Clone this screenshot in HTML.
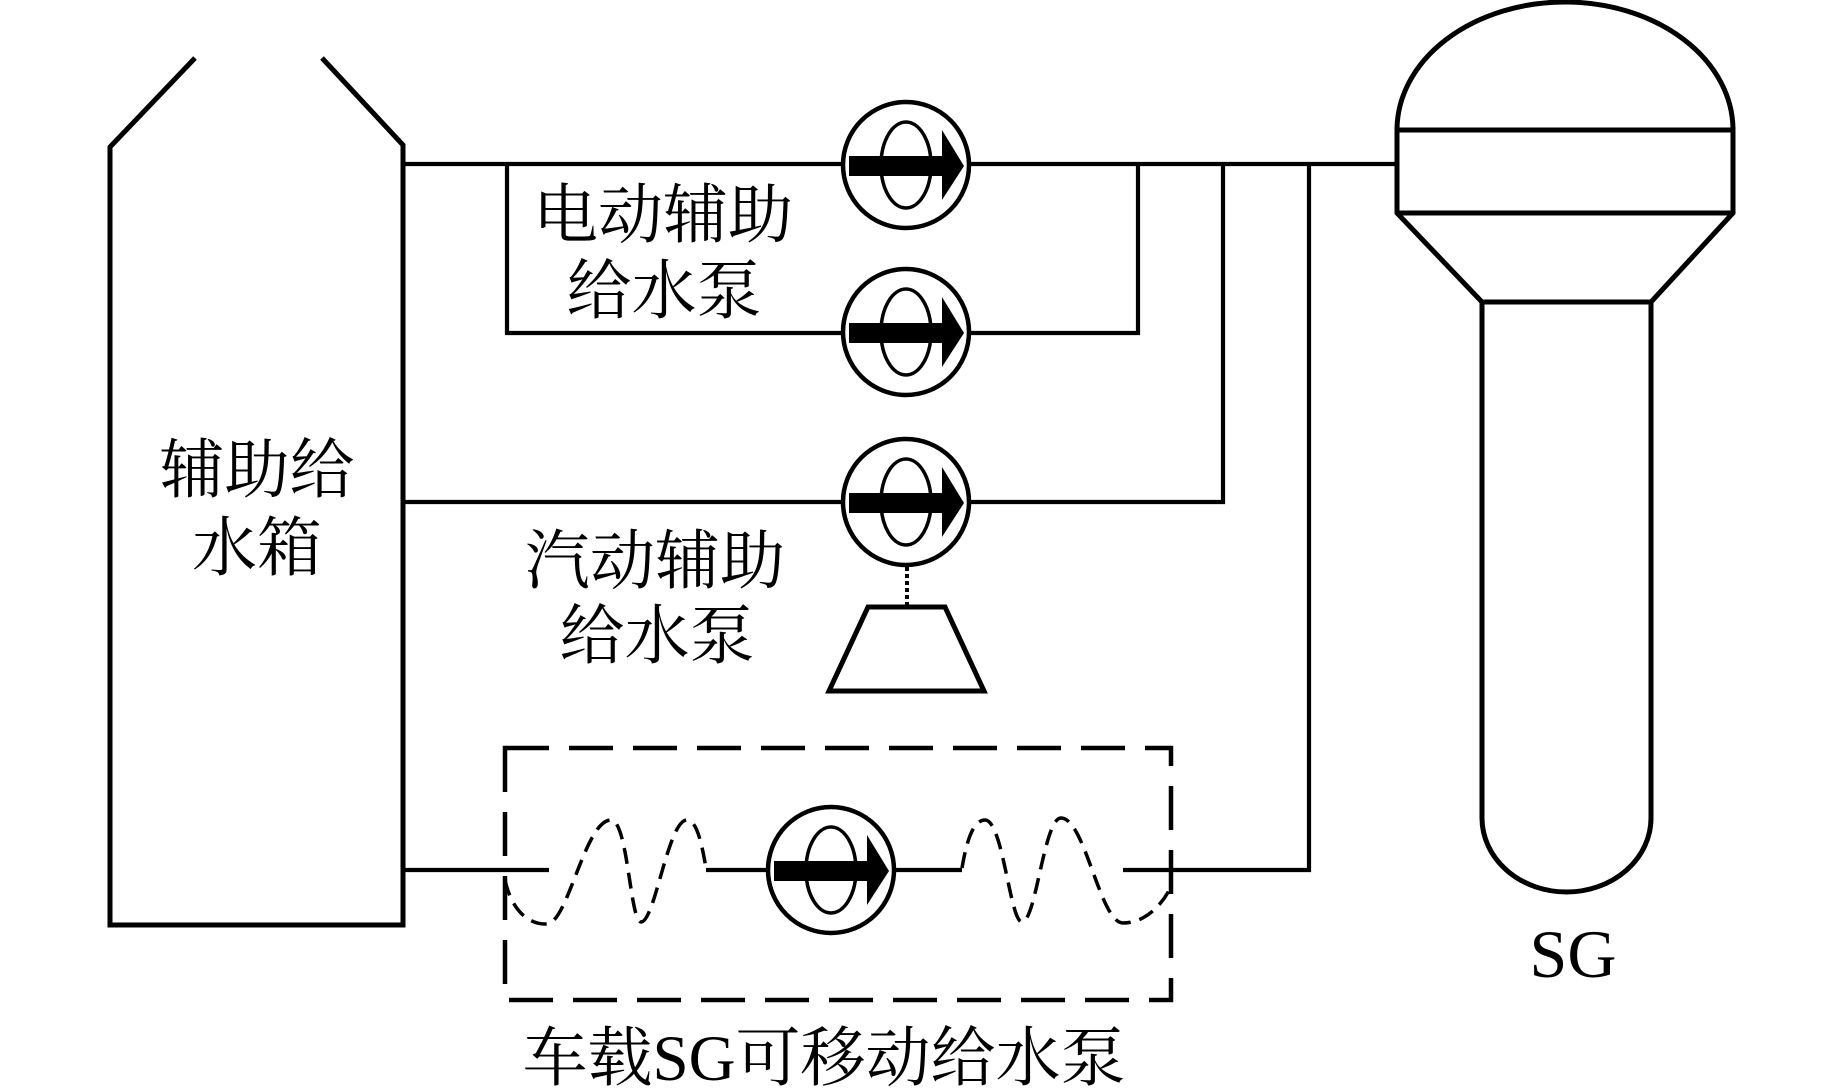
<!DOCTYPE html>
<html>
<head>
<meta charset="utf-8">
<style>
html,body{margin:0;padding:0;background:#fff;}
svg{display:block;}
text{font-family:"Liberation Serif","Noto Serif CJK SC","Noto Sans CJK SC",serif;fill:#000;}
</style>
</head>
<body>
<svg width="1843" height="1089" viewBox="0 0 1843 1089" xmlns="http://www.w3.org/2000/svg">
<rect width="1843" height="1089" fill="#fff"/>

<!-- Tank -->
<path d="M195,58 L110,147 L110,925 L403,925 L403,145 L322,58" fill="none" stroke="#000" stroke-width="5" stroke-linejoin="miter"/>

<!-- Pipes -->
<g fill="none" stroke="#000" stroke-width="4.2" stroke-linejoin="miter">
  <path d="M403,164 L1397,164"/>
  <path d="M507,164 L507,333 L1138,333 L1138,164"/>
  <path d="M403,502 L1223,502 L1223,164"/>
  <path d="M403,870 L549,870"/>
  <path d="M706,870 L962,870"/>
  <path d="M1123,870 L1309,870 L1309,164"/>
</g>

<!-- Dashed box -->
<rect x="505" y="748" width="666" height="252" fill="none" stroke="#000" stroke-width="4.5" stroke-dasharray="44 20"/>

<!-- Hoses -->
<g fill="none" stroke="#000" stroke-width="3.5" stroke-dasharray="16 9">
  <path d="M505,880 C512,912 530,925 547,924 C568,923 585,820 611,820 C628,820 630,922 641,922 C655,922 668,820 687,820 C697,820 702,845 706,868"/>
  <path d="M962,868 C966,845 972,820 985,820 C1003,820 1010,922 1022,922 C1036,922 1044,818 1061,818 C1085,818 1100,923 1123,923 C1145,923 1162,905 1171,887"/>
</g>

<!-- Pump symbol -->
<defs>
  <g id="pump">
    <circle cx="0" cy="0" r="63" fill="#fff" stroke="#000" stroke-width="4.5"/>
    <ellipse cx="0" cy="0" rx="25" ry="43" fill="none" stroke="#000" stroke-width="3.5"/>
    <polygon points="-57,-9 36,-9 36,-35 58,1 36,35 36,11 -57,11" fill="#000"/>
  </g>
</defs>
<use href="#pump" x="906" y="165"/>
<use href="#pump" x="906" y="332"/>
<use href="#pump" x="906" y="502"/>
<use href="#pump" x="831" y="870"/>

<!-- Dotted shaft and turbine -->
<line x1="907" y1="567" x2="907" y2="605" stroke="#000" stroke-width="4" stroke-dasharray="4 3"/>
<polygon points="868,607 945,607 984,691 829,691" fill="none" stroke="#000" stroke-width="5" stroke-linejoin="miter"/>

<!-- SG -->
<g fill="none" stroke="#000" stroke-width="5" stroke-linejoin="miter">
  <path d="M1397,130 A168,128 0 0 1 1733,130"/>
  <path d="M1397,130 L1397,213 L1482,302 L1482,818 A84.5,74 0 0 0 1651,818 L1651,302 L1733,213 L1733,130 Z"/>
  <line x1="1397" y1="213" x2="1733" y2="213"/>
  <line x1="1482" y1="302" x2="1651" y2="302"/>
</g>

<!-- Labels -->
<g font-size="65" text-anchor="middle">
  <text x="663" y="237">电动辅助</text>
  <text x="664" y="313">给水泵</text>
  <text x="257" y="492">辅助给</text>
  <text x="257" y="570">水箱</text>
  <text x="655" y="583">汽动辅助</text>
  <text x="657" y="658">给水泵</text>
  <text x="824" y="1080">车载SG可移动给水泵</text>
</g>
<text x="1573" y="977" font-size="68" text-anchor="middle">SG</text>
</svg>
</body>
</html>
